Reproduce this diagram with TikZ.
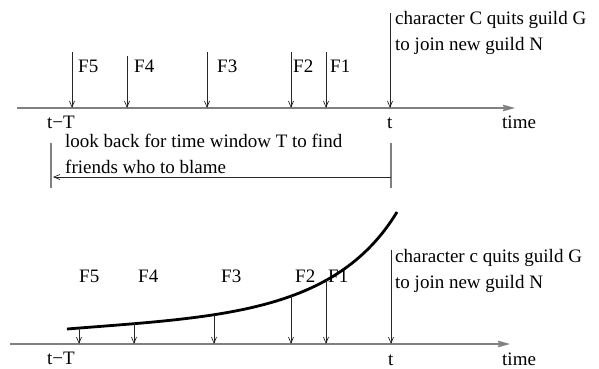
\documentclass[tikz,border=0pt]{standalone}
\usepackage{fontspec}
\setmainfont{Liberation Serif}
\usetikzlibrary{arrows.meta}

\begin{document}
\begin{tikzpicture}[x=1pt, y=-1pt,
  axis/.style={draw=gray, line width=1.6pt, -{Straight Barb[length=9pt, width=5pt]}},
  hit/.style={draw=black!85, line width=0.7pt, -{Straight Barb[length=6pt, width=5pt]}},
  bar/.style={draw=gray, line width=1.2pt},
  txt/.style={font=\fontsize{19}{26}\selectfont, inner sep=0pt, anchor=base west, align=left},
]
  \useasboundingbox (0,0) rectangle (599,369);
  % upper time line
  \coordinate (A0) at (17,108);
  \coordinate (A1) at (515,108);
  \draw[axis] (A0) -- (A1);
  \foreach \n/\x/\y/\lx in {5/72/52/78, 4/127/56/134, 3/207/52/217, 2/291/52/293, 1/326/52/330} {
    \coordinate (f\n) at (\x,\y);
    \coordinate (g\n) at (\x,108);
    \draw[hit] (f\n) -- (g\n);
    \node[txt] (lf\n) at (\lx,73) {F\n};
  }
  \coordinate (Q0) at (390,13);
  \coordinate (Q1) at (390,108);
  \draw[hit] (Q0) -- (Q1);
  % base of a two-line text is its last line
  \node[txt] (quit) at (395,51) {character C quits guild G\\to join new guild N};
  \node[txt] (tT) at (47,128) {t−T};
  \node[txt] (t) at (387,128) {t};
  \node[txt] (time) at (502,128) {time};
  % look-back window
  \coordinate (B0) at (51,143);
  \coordinate (B1) at (51,188);
  \coordinate (B2) at (391,143);
  \coordinate (B3) at (391,188);
  \draw[bar] (B0) -- (B1);
  \draw[bar] (B2) -- (B3);
  \coordinate (W0) at (391,177);
  \coordinate (W1) at (53,177);
  \draw[hit] (W0) -- (W1);
  \node[txt] (look) at (65,173) {look back for time window T to find\\friends who to blame};

  % lower time line
  \coordinate (D0) at (10,344);
  \coordinate (D1) at (510,344);
  \draw[axis] (D0) -- (D1);
  \coordinate (C0) at (67,329);
  \coordinate (C1) at (217,317);
  \coordinate (C2) at (335,314);
  \coordinate (C3) at (397,212);
  \draw[line width=2.8pt] (C0) .. controls (C1) and (C2) .. (C3);
  \foreach \n/\x/\y/\lx in {5/79/328/79, 4/134/323/138, 3/214/315/221, 2/291/296/295, 1/326/280/328} {
    \coordinate (h\n) at (\x,\y);
    \coordinate (k\n) at (\x,344);
    \draw[hit] (h\n) -- (k\n);
    \node[txt] (mf\n) at (\lx,282) {F\n};
  }
  \coordinate (R0) at (391,250);
  \coordinate (R1) at (391,344);
  \draw[hit] (R0) -- (R1);
  \node[txt] (quitc) at (395,288) {character c quits guild G\\to join new guild N};
  \node[txt] (tT2) at (47,364) {t−T};
  \node[txt] (t2) at (388,365) {t};
  \node[txt] (time2) at (502,365) {time};
\end{tikzpicture}
\end{document}
